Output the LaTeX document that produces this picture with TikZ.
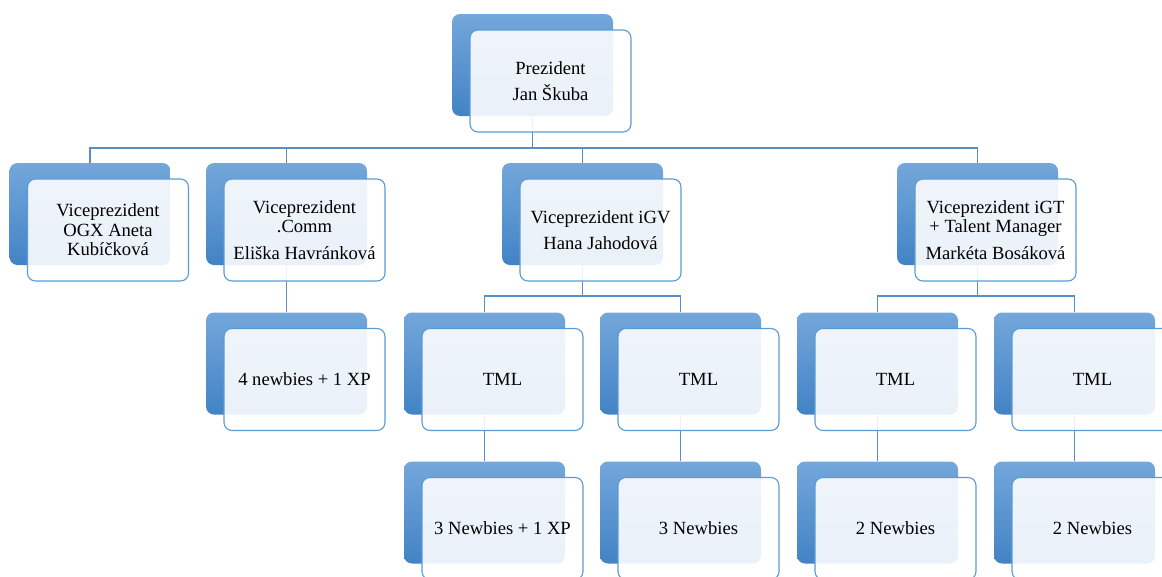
\documentclass[tikz,border=0pt]{standalone}
\usepackage{fontspec}
\setmainfont{Liberation Serif}
\usepackage{xcolor}
\definecolor{orgdark}{HTML}{4283C5}
\definecolor{orglight}{HTML}{74A7DB}
\definecolor{orgedge}{HTML}{5B9BD5}
\definecolor{orgline}{HTML}{5A8FC6}
\usepackage{tikz}
\usetikzlibrary{positioning}

\tikzset{
  backbox/.style={rectangle, rounded corners=8pt, top color=orglight,
      bottom color=orgdark, draw=none, minimum width=161pt, minimum height=102pt},
  frontbox/.style={rectangle, rounded corners=8pt, draw=orgedge, line width=1.1pt,
      fill=white, fill opacity=0.89, text opacity=1, minimum width=161pt,
      minimum height=102pt, align=center, font=\fontsize{18.6}{19.5}\selectfont},
  link/.style={draw=orgline, line width=1.2pt}
}

\begin{document}
\begin{tikzpicture}[x=1pt, y=-1pt]
\useasboundingbox (0,0) rectangle (1162,576);
\clip (0,0) rectangle (1162,576);

% back cards
\node[backbox] (pres) at (532.5,65) {};
\node[backbox] (ogx) at (90,214) {};
\node[backbox] (comm) at (286.5,214) {};
\node[backbox] (igv) at (582.5,214) {};
\node[backbox] (igt) at (977.5,214) {};
\node[backbox] (nova) at (286.5,363.5) {};
\node[backbox] (tmla) at (484.5,363.5) {};
\node[backbox] (tmlb) at (680.5,363.5) {};
\node[backbox] (tmlc) at (877.5,363.5) {};
\node[backbox] (tmld) at (1074.5,363.5) {};
\node[backbox] (nba) at (484.5,512.5) {};
\node[backbox] (nbb) at (680.5,512.5) {};
\node[backbox] (nbc) at (877.5,512.5) {};
\node[backbox] (nbd) at (1074.5,512.5) {};

% connectors
\coordinate (busa) at (0,148);
\coordinate (busb) at (0,296);
\foreach \n in {ogx,comm,igv,igt}
  \draw[link] (pres.south) -- (pres.south |- busa) -| (\n.north);
\draw[link] (comm.south) -- (nova.north);
\foreach \n in {tmla,tmlb}
  \draw[link] (igv.south) -- (igv.south |- busb) -| (\n.north);
\foreach \n in {tmlc,tmld}
  \draw[link] (igt.south) -- (igt.south |- busb) -| (\n.north);
\draw[link] (tmla.south) -- (nba.north);
\draw[link] (tmlb.south) -- (nbb.north);
\draw[link] (tmlc.south) -- (nbc.north);
\draw[link] (tmld.south) -- (nbd.north);

% front cards
\node[frontbox] (pres-card) at ([shift={(18,16)}]pres.center)
  {Prezident\\[7pt] Jan Škuba};
\node[frontbox] (ogx-card) at ([shift={(18,16)}]ogx.center)
  {Viceprezident\\ OGX Aneta\\ Kubíčková};
\node[frontbox] (comm-card) at ([shift={(18,16)}]comm.center)
  {Viceprezident\\ .Comm\\[7pt] Eliška Havránková};
\node[frontbox] (igv-card) at ([shift={(18,16)}]igv.center)
  {Viceprezident iGV\\[7pt] Hana Jahodová};
\node[frontbox] (igt-card) at ([shift={(18,16)}]igt.center)
  {Viceprezident iGT\\ + Talent Manager\\[7pt] Markéta Bosáková};
\node[frontbox] (nova-card) at ([shift={(18,16)}]nova.center) {4 newbies + 1 XP};
\node[frontbox] (tmla-card) at ([shift={(18,16)}]tmla.center) {TML};
\node[frontbox] (tmlb-card) at ([shift={(18,16)}]tmlb.center) {TML};
\node[frontbox] (tmlc-card) at ([shift={(18,16)}]tmlc.center) {TML};
\node[frontbox] (tmld-card) at ([shift={(18,16)}]tmld.center) {TML};
\node[frontbox] (nba-card) at ([shift={(18,16)}]nba.center) {3 Newbies + 1 XP};
\node[frontbox] (nbb-card) at ([shift={(18,16)}]nbb.center) {3 Newbies};
\node[frontbox] (nbc-card) at ([shift={(18,16)}]nbc.center) {2 Newbies};
\node[frontbox] (nbd-card) at ([shift={(18,16)}]nbd.center) {2 Newbies};
\end{tikzpicture}
\end{document}
